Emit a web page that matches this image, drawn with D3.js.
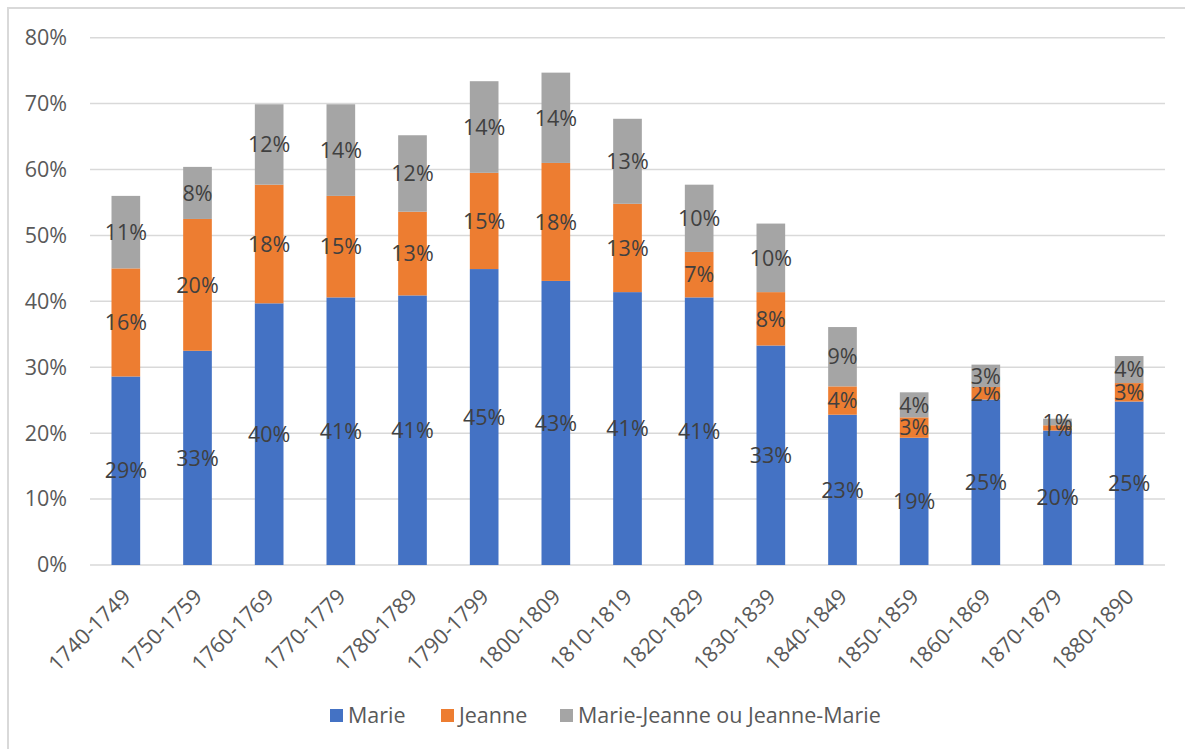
<!DOCTYPE html>
<html>
<head>
<meta charset="utf-8">
<script src="https://cdn.jsdelivr.net/npm/d3@7"></script>
<style>
  body { margin: 0; background: #fff; }
  svg { display: block; }
</style>
</head>
<body>
<div id="chart"></div>
<script>
// data (percent)
var categories = ["1740-1749", "1750-1759", "1760-1769", "1770-1779", "1780-1789",
  "1790-1799", "1800-1809", "1810-1819", "1820-1829", "1830-1839",
  "1840-1849", "1850-1859", "1860-1869", "1870-1879", "1880-1890"];
var marie = [28.6, 32.5, 39.7, 40.6, 40.9, 44.9, 43.1, 41.4, 40.6, 33.3, 22.8, 19.3, 25.1, 20.4, 24.8];
var jeanne = [16.4, 20.0, 18.0, 15.4, 12.7, 14.6, 17.9, 13.4, 6.9, 8.1, 4.3, 3.1, 1.9, 0.8, 2.8];
var mariejeanne = [11.0, 7.9, 12.2, 13.9, 11.6, 13.9, 13.7, 12.9, 10.2, 10.4, 9.0, 3.8, 3.4, 1.0, 4.1];
var seriesNames = ["Marie", "Jeanne", "Marie-Jeanne ou Jeanne-Marie"];
var colors = ["#4472C4", "#ED7D31", "#A5A5A5"];
var yTicks = [0, 10, 20, 30, 40, 50, 60, 70, 80];

var W = 1185, H = 749;
var margin = {top: 37.7, left: 90, right: 20, bottom: 184};
var width = W - margin.left - margin.right,
    height = H - margin.top - margin.bottom;

var font = "'Open Sans', Arial, sans-serif";
var fsize = "21.5px";

var svg = d3.select("#chart").append("svg")
    .attr("width", W)
    .attr("height", H);

// chart border (cropped at right / bottom)
svg.append("rect")
    .attr("x", 8).attr("y", 8)
    .attr("width", W).attr("height", H)
    .attr("fill", "none")
    .attr("stroke", "#d9d9d9")
    .attr("stroke-width", 2);

var g = svg.append("g")
    .attr("transform", "translate(" + margin.left + "," + margin.top + ")");

var rows = categories.map(function (c, i) {
  return {cat: c, "Marie": marie[i], "Jeanne": jeanne[i], "Marie-Jeanne ou Jeanne-Marie": mariejeanne[i]};
});
var stacked = d3.stack().keys(seriesNames)(rows);

var x = d3.scaleBand()
    .domain(categories)
    .range([0, width])
    .paddingInner(0.6)
    .paddingOuter(0.3);

var y = d3.scaleLinear()
    .domain([0, 80])
    .range([height, 0]);

// gridlines
g.append("g")
    .selectAll("line")
    .data(yTicks)
    .enter().append("line")
    .attr("x1", 0).attr("x2", width)
    .attr("y1", function (d) { return y(d); })
    .attr("y2", function (d) { return y(d); })
    .attr("stroke", "#d9d9d9")
    .attr("stroke-width", 1.5);

// y axis labels
var yAxis = d3.axisLeft(y)
    .tickValues(yTicks)
    .tickSize(0)
    .tickPadding(23)
    .tickFormat(function (d) { return d + "%"; });

g.append("g")
    .call(yAxis)
    .call(function (a) { a.select(".domain").remove(); })
    .selectAll("text")
    .style("font-family", font)
    .style("font-size", fsize)
    .attr("fill", "#595959");

// bars
var layers = g.selectAll(".layer")
    .data(stacked)
    .enter().append("g")
    .attr("class", "layer")
    .attr("fill", function (d, i) { return colors[i]; });

layers.selectAll("rect")
    .data(function (d) { return d; })
    .enter().append("rect")
    .attr("x", function (d) { return x(d.data.cat); })
    .attr("width", x.bandwidth())
    .attr("y", function (d) { return y(d[1]); })
    .attr("height", function (d) { return y(d[0]) - y(d[1]); });

// value labels
layers.selectAll("text")
    .data(function (d) { return d; })
    .enter().append("text")
    .attr("x", function (d) { return x(d.data.cat) + x.bandwidth() / 2; })
    .attr("y", function (d) { return y((d[0] + d[1]) / 2); })
    .attr("dy", "0.36em")
    .attr("text-anchor", "middle")
    .style("font-family", font)
    .style("font-size", fsize)
    .attr("fill", "#404040")
    .text(function (d) { return Math.round(d[1] - d[0]) + "%"; });

// x axis labels, rotated
var xAxis = d3.axisBottom(x).tickSize(0).tickPadding(0);
g.append("g")
    .attr("transform", "translate(0," + height + ")")
    .call(xAxis)
    .call(function (a) { a.select(".domain").remove(); })
    .selectAll("text")
    .style("font-family", font)
    .style("font-size", fsize)
    .attr("fill", "#595959")
    .attr("text-anchor", "end")
    .attr("dy", 0)
    .attr("y", 0)
    .attr("transform", "translate(6,33) rotate(-45)");

// legend
var legendX = [330, 441, 560];
var legend = svg.append("g")
    .selectAll("g")
    .data(seriesNames)
    .enter().append("g")
    .attr("transform", function (d, i) { return "translate(" + legendX[i] + ",709)"; });

legend.append("rect")
    .attr("width", 13).attr("height", 13)
    .attr("fill", function (d, i) { return colors[i]; });

legend.append("text")
    .attr("x", 18)
    .attr("y", 6.5)
    .attr("dy", "0.36em")
    .style("font-family", font)
    .style("font-size", fsize)
    .attr("fill", "#595959")
    .text(function (d) { return d; });
</script>
</body>
</html>
